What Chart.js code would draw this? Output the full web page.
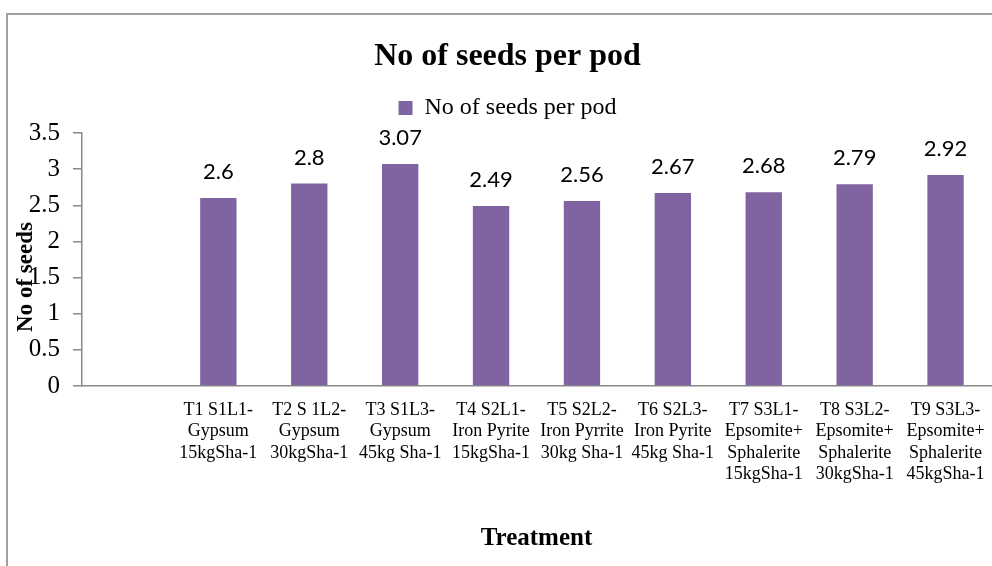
<!DOCTYPE html>
<html><head><meta charset="utf-8">
<script src="https://cdn.jsdelivr.net/npm/chart.js@4.4.1/dist/chart.umd.min.js"></script>
<style>
html,body{margin:0;padding:0;background:#fff;overflow:hidden;width:992px;height:566px}
#frame{position:absolute;left:6px;top:13px;width:1100px;height:700px;border:2px solid #a0a0a0;box-sizing:border-box}
#wrap{position:absolute;left:0;top:0;width:992px;height:566px}
</style></head><body>
<div id="frame"></div>
<div id="wrap"><canvas id="c"></canvas></div>
<script>
const chartTitle = 'No of seeds per pod';
const seriesName = 'No of seeds per pod';
const xAxisTitle = 'Treatment';
const yAxisTitle = 'No of seeds';
const categories = [
  '',
  ['T1 S1L1-', 'Gypsum', '15kgSha-1'],
  ['T2 S 1L2-', 'Gypsum', '30kgSha-1'],
  ['T3 S1L3-', 'Gypsum', '45kg Sha-1'],
  ['T4 S2L1-', 'Iron Pyrite', '15kgSha-1'],
  ['T5 S2L2-', 'Iron Pyrrite', '30kg Sha-1'],
  ['T6 S2L3-', 'Iron Pyrite', '45kg Sha-1'],
  ['T7 S3L1-', 'Epsomite+', 'Sphalerite', '15kgSha-1'],
  ['T8 S3L2-', 'Epsomite+', 'Sphalerite', '30kgSha-1'],
  ['T9 S3L3-', 'Epsomite+', 'Sphalerite', '45kgSha-1']
];
const seedsPerPod = [null, 2.6, 2.8, 3.07, 2.49, 2.56, 2.67, 2.68, 2.79, 2.92];
const yMin = 0, yMax = 3.5, yStep = 0.5;

const SERIF = '"Liberation Serif", "Times New Roman", serif';
const barColor = '#8064A2';
const axisColor = '#898989';

Chart.defaults.color = '#000';

const legendGap = {
  id: 'legendGap',
  beforeUpdate(chart) {
    const lg = chart.legend;
    if (lg && !lg._gapPatched) {
      const orig = lg.fit.bind(lg);
      lg.fit = function () { orig(); this.height += 3; };
      lg._gapPatched = true;
    }
  }
};

const valueLabels = {
  id: 'valueLabels',
  afterDatasetsDraw(chart) {
    const ctx = chart.ctx;
    const meta = chart.getDatasetMeta(0);
    const data = chart.data.datasets[0].data;
    ctx.save();
    ctx.font = '22px Lato, "Open Sans", sans-serif';
    ctx.fillStyle = '#000';
    ctx.textAlign = 'center';
    ctx.textBaseline = 'alphabetic';
    meta.data.forEach((bar, i) => {
      const v = data[i];
      if (v === null || v === undefined) return;
      ctx.fillText(String(v), bar.x, bar.y - 19);
    });
    ctx.restore();
  }
};

const yTitle = {
  id: 'yTitle',
  afterDraw(chart) {
    const ctx = chart.ctx;
    ctx.save();
    ctx.translate(26, 277);
    ctx.rotate(-Math.PI / 2);
    ctx.font = 'bold 23px ' + SERIF;
    ctx.fillStyle = '#000';
    ctx.textAlign = 'center';
    ctx.textBaseline = 'middle';
    ctx.fillText(yAxisTitle, 0, 0);
    ctx.restore();
  }
};

new Chart(document.getElementById('c'), {
  type: 'bar',
  data: {
    labels: categories,
    datasets: [{
      label: seriesName,
      data: seedsPerPod,
      backgroundColor: barColor,
      borderWidth: 0,
      categoryPercentage: 1.0,
      barPercentage: 0.4
    }]
  },
  options: {
    responsive: true,
    maintainAspectRatio: false,
    animation: false,
    devicePixelRatio: 1,
    layout: { padding: { left: 24, right: 1, top: 0, bottom: 0 } },
    plugins: {
      title: {
        display: true,
        text: chartTitle,
        color: '#000',
        font: { family: SERIF, size: 32, weight: 'bold', lineHeight: 1.2 },
        padding: { top: 37.8, bottom: 7.8 }
      },
      legend: {
        display: true,
        position: 'top',
        labels: {
          color: '#000',
          font: { family: SERIF, size: 24 },
          boxWidth: 14,
          boxHeight: 14,
          padding: 12
        }
      },
      tooltip: { enabled: false }
    },
    scales: {
      x: {
        grid: { display: false, drawTicks: true, tickLength: 13.5 },
        border: { display: true, color: axisColor, width: 1.5 },
        ticks: {
          autoSkip: false,
          maxRotation: 0,
          minRotation: 0,
          padding: 0,
          color: '#000',
          font: { family: SERIF, size: 18, lineHeight: 1.19 }
        },
        title: {
          display: true,
          text: xAxisTitle,
          color: '#000',
          font: { family: SERIF, size: 25, weight: 'bold', lineHeight: 1.2 },
          padding: { top: 0, bottom: 12 }
        },
        afterFit(scale) { scale.height = 180; }
      },
      y: {
        min: yMin,
        max: yMax,
        grid: { display: true, drawOnChartArea: false, drawTicks: true, tickLength: 9, color: axisColor, lineWidth: 1.5 },
        border: { display: true, color: axisColor, width: 1.5 },
        ticks: {
          stepSize: yStep,
          padding: 13,
          color: '#000',
          font: { family: SERIF, size: 25 },
          callback: (v) => String(v)
        },
        afterFit(scale) { scale.width = 58; }
      }
    }
  },
  plugins: [legendGap, valueLabels, yTitle]
});
</script>
</body></html>
